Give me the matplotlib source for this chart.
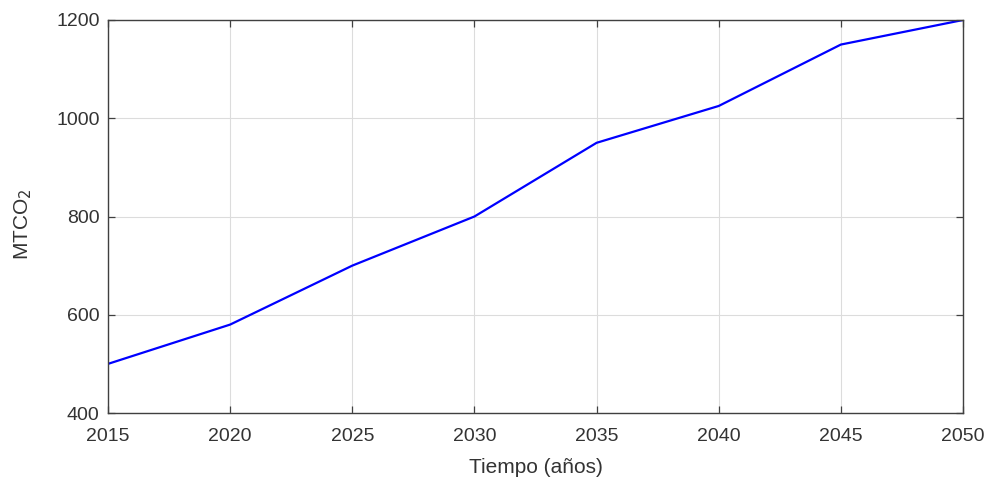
import matplotlib
matplotlib.use("Agg")
import matplotlib.pyplot as plt

years = [2015, 2020, 2025, 2030, 2035, 2040, 2045, 2050]
mtco2 = [500, 580, 700, 800, 950, 1025, 1150, 1200]
yticks = [400, 600, 800, 1000, 1200]

plt.rcParams['font.family'] = ['Liberation Sans', 'DejaVu Sans']
axis_col = '#404040'
text_col = '#333333'

fig = plt.figure(figsize=(9.9, 4.8), dpi=100)
ax = fig.add_axes([108/990, 1 - 413/480, (963 - 108)/990, (413 - 20)/480])

ax.plot(years, mtco2, color='#0000ff', linewidth=1.6)

ax.set_xlim(2015, 2050)
ax.set_ylim(400, 1200)
ax.set_xticks(years)
ax.set_yticks(yticks)
ax.grid(True, color='#dcdcdc', linewidth=0.8)
ax.set_axisbelow(True)

ax.tick_params(direction='in', top=True, right=True, length=5, width=0.9,
               colors=axis_col, labelcolor=text_col, labelsize=14)
ax.tick_params(axis='x', pad=11)
ax.tick_params(axis='y', pad=6)
for s in ax.spines.values():
    s.set_color(axis_col)
    s.set_linewidth(1.0)

ax.set_xlabel('Tiempo (años)', fontsize=15, color=text_col, labelpad=9)
ax.set_ylabel('MTCO$_2$', fontsize=15, color=text_col)
ax.yaxis.set_label_coords(-0.087, 0.48)

fig.savefig('out.png', dpi=100)
